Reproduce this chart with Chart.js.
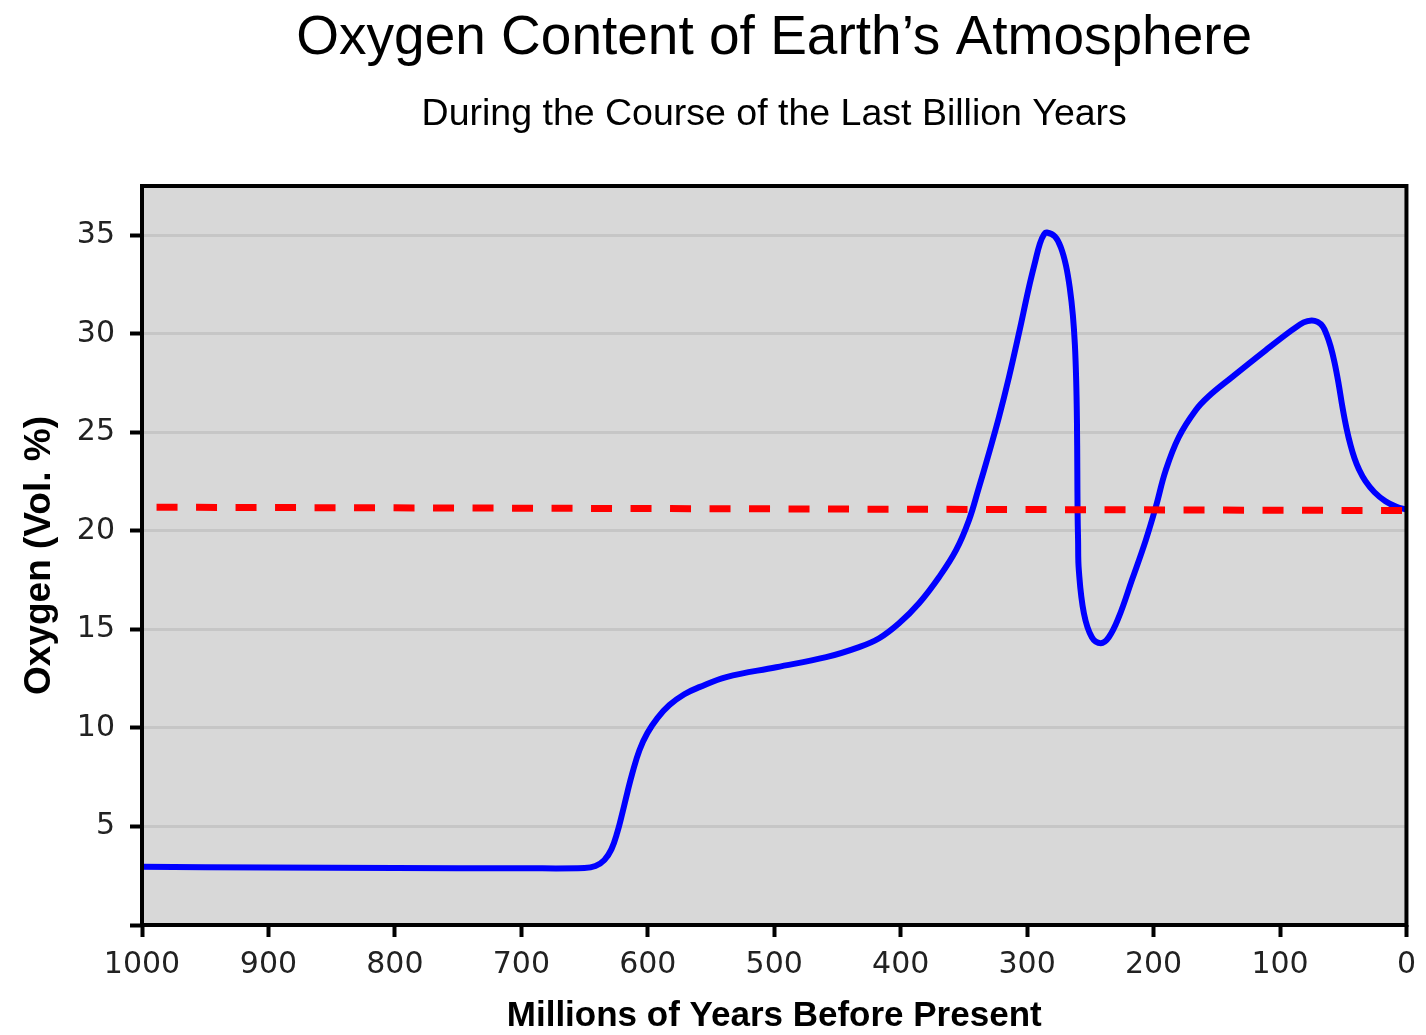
<!DOCTYPE html>
<html>
<head>
<meta charset="utf-8">
<title>Oxygen Content of Earth's Atmosphere</title>
<script src="https://cdn.jsdelivr.net/npm/chart.js@4/dist/chart.umd.min.js"></script>
<style>
    body { margin: 0; background: #fff; }
    #wrap { width: 1426px; height: 1035px; }
</style>
</head>
<body>
<div id="wrap"><canvas id="oxygenChart" width="1426" height="1035"></canvas></div>
<script>
// millions of years before present (left to right)
const years = [1000, 900, 800, 700, 650.1, 641.4, 634.3, 628.7, 624.0, 620.1, 616.1, 612.2, 606.6, 600.3, 592.4, 582.9, 571.1, 559.2, 537.9, 498.4,
    458.9, 432.9, 417.0, 401.3, 385.5, 369.7, 356.2, 346.0, 338.1, 330.2, 322.3, 314.4, 306.5, 298.6, 293.8, 289.9, 286.7, 284.4,
    278.0, 273.3, 269.3, 266.2, 263.8, 262.2, 261.2, 260.6, 260.3, 260.1, 259.7, 259.1, 255.1, 248.8, 241.7, 235.4,
    227.5, 217.2, 206.2, 198.3, 190.4, 180.1, 166.7, 156.4, 138.2, 111.4, 90.9, 81.3, 75.0, 70.3, 66.3, 63.2, 60.0,
    56.9, 53.7, 50.6, 47.4, 44.2, 41.1, 37.9, 32.4, 25.3, 16.6, 7.9, 0];
// oxygen, volume %
const oxygen = [2.95, 2.92, 2.89, 2.88, 2.89, 2.99, 3.30, 3.85, 4.72, 5.68, 6.74, 7.71, 8.87, 9.74, 10.50, 11.16, 11.71, 12.07, 12.58, 13.08,
    13.59, 14.10, 14.55, 15.31, 16.33, 17.65, 19.02, 20.54, 22.21, 23.94, 25.76, 27.79, 30.02, 32.35, 33.62, 34.58, 35.04, 35.14,
    34.94, 34.38, 33.47, 32.30, 30.93, 29.41, 27.64, 25.61, 23.07, 21.04, 19.52, 18.0, 15.82, 14.6, 14.3, 14.6,
    15.62, 17.49, 19.52, 21.2, 23.07, 24.75, 26.12, 26.83, 27.79, 29.16, 30.17, 30.58, 30.68, 30.60, 30.38, 29.97, 29.36,
    28.55, 27.48, 26.27, 25.2, 24.34, 23.68, 23.17, 22.52, 21.96, 21.5, 21.22, 21.08];

// present day level (dashed red line)
const presentYears = [988.5, 2];
const presentLevel = [21.2, 21.03];

const yTickStep = 5;
const xTickStep = 100;

const toPoints = (xs, ys) => xs.map((x, i) => ({ x: x, y: ys[i] }));

// grey plot background and black frame round the chart area
const plotFrame = {
    id: 'plotFrame',
    beforeDraw: (chart) => {
        const { ctx, chartArea } = chart;
        ctx.save();
        ctx.fillStyle = '#d8d8d8';
        ctx.fillRect(chartArea.left, chartArea.top, chartArea.width, chartArea.height);
        ctx.restore();
    },
    afterDatasetsDraw: (chart) => {
        const { ctx, chartArea } = chart;
        ctx.save();
        ctx.strokeStyle = '#000';
        ctx.lineWidth = 4;
        ctx.strokeRect(chartArea.left, chartArea.top, chartArea.width, chartArea.height);
        ctx.restore();
    },
};

const ctx = document.getElementById('oxygenChart').getContext('2d');
const chart = new Chart(ctx, {
    type: 'line',
    data: {
        datasets: [
            {
                label: 'Present level',
                data: toPoints(presentYears, presentLevel),
                borderColor: '#ff0000',
                borderWidth: 7,
                borderDash: [21, 18.5],
                pointRadius: 0,
                tension: 0,
            },
            {
                label: 'Oxygen',
                data: toPoints(years, oxygen),
                borderColor: '#0000ff',
                borderWidth: 6,
                pointRadius: 0,
                tension: 0.4,
            },
        ],
    },
    options: {
        responsive: false,
        animation: false,
        layout: { padding: { top: 0, right: 18, bottom: 0, left: 0 } },
        plugins: {
            legend: { display: false },
            tooltip: { enabled: false },
            title: {
                display: true,
                text: 'Oxygen Content of Earth\u2019s Atmosphere',
                color: '#000',
                fullSize: false,
                font: { family: 'Liberation Sans', size: 55, weight: 'normal' },
                padding: { top: 6, bottom: 14 },
            },
            subtitle: {
                display: true,
                text: 'During the Course of the Last Billion Years',
                color: '#000',
                fullSize: false,
                font: { family: 'Liberation Sans', size: 37.5, weight: 'normal' },
                padding: { top: 6, bottom: 49 },
            },
        },
        scales: {
            x: {
                type: 'linear',
                min: 0,
                max: 1000,
                reverse: true,
                border: { display: false },
                grid: {
                    drawOnChartArea: false,
                    tickColor: '#000',
                    tickWidth: 4,
                    tickLength: 12,
                },
                ticks: {
                    stepSize: xTickStep,
                    color: '#222',
                    padding: 10,
                    maxRotation: 0,
                    font: { family: 'DejaVu Sans', size: 30 },
                    callback: (v) => String(v),
                },
                title: {
                    display: true,
                    text: 'Millions of Years Before Present',
                    color: '#000',
                    font: { family: 'Liberation Sans', size: 35, weight: 'bold', lineHeight: 1 },
                    padding: { top: 0, bottom: 1 },
                },
                afterFit: (scale) => {
                    scale.height = 110;
                },
            },
            y: {
                type: 'linear',
                min: 0,
                max: 37.5,
                border: { display: false },
                grid: {
                    color: '#c6c6c6',
                    lineWidth: 3,
                    tickColor: '#000',
                    tickWidth: 4,
                    tickLength: 12,
                },
                ticks: {
                    stepSize: yTickStep,
                    includeBounds: false,
                    color: '#222',
                    padding: 15,
                    font: { family: 'DejaVu Sans', size: 30 },
                    callback: (v) => (v === 0 ? '' : v),
                },
                title: {
                    display: true,
                    text: 'Oxygen (Vol. %)',
                    color: '#000',
                    font: { family: 'Liberation Sans', size: 37, weight: 'bold', lineHeight: 1 },
                    padding: { top: 21, bottom: 0 },
                },
                afterFit: (scale) => {
                    scale.width = 142;
                },
            },
        },
    },
    plugins: [plotFrame],
});
</script>
</body>
</html>
